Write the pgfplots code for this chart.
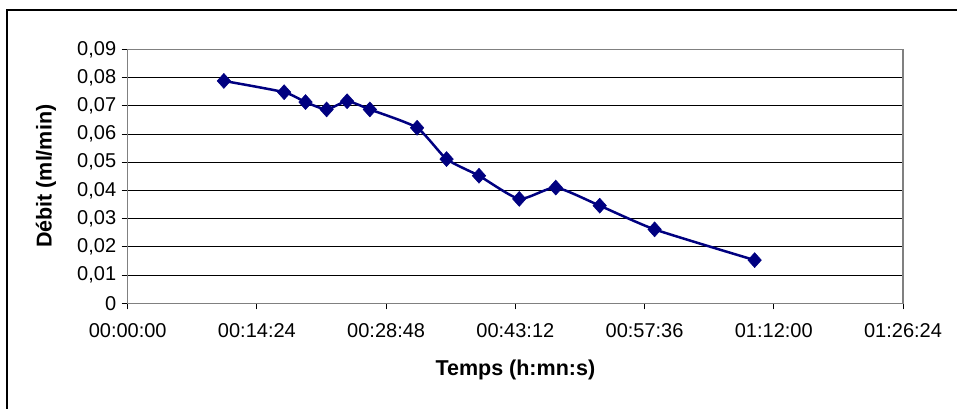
\documentclass[border=0pt]{standalone}
\usepackage{fontspec}
\setmainfont{Liberation Sans}
\usepackage{pgfplots}
\pgfplotsset{compat=1.18}
\definecolor{navyline}{RGB}{0,0,128}
\definecolor{framegray}{RGB}{128,128,128}

% flow rate (ml/min) against elapsed time (s)
\pgfplotstableread{
t     q
643   0.0788
1046  0.0748
1189  0.0713
1330  0.0687
1467  0.0716
1619  0.0687
1935  0.0622
2132  0.0511
2349  0.0452
2618  0.0370
2862  0.0410
3156  0.0346
3523  0.0262
4192  0.0153
}\debit

\begin{document}
\begin{tikzpicture}[x=1pt,y=1pt]
\useasboundingbox (0,0) rectangle (957,408);
\draw[line width=1.2pt] (7,-20) -- (7,398) -- (980,398);
\begin{axis}[
  at={(127.7pt,104.7pt)}, anchor=south west,
  scale only axis, width=775.3pt, height=254pt,
  xmin=0, xmax=5184, ymin=0, ymax=0.09,
  scaled y ticks=false, scaled x ticks=false,
  xtick={0,864,1728,2592,3456,4320,5184},
  xticklabels={00:00:00,00:14:24,00:28:48,00:43:12,00:57:36,01:12:00,01:26:24},
  ytick={0,0.01,0.02,0.03,0.04,0.05,0.06,0.07,0.08,0.09},
  yticklabels={0,{0,01},{0,02},{0,03},{0,04},{0,05},{0,06},{0,07},{0,08},{0,09}},
  xtick pos=left, ytick pos=left,
  tick align=outside, major tick length=6pt,
  tick style={black, line width=0.9pt},
  ymajorgrids, major grid style={black, line width=0.9pt},
  axis line style={framegray, line width=1.4pt},
  tick label style={font=\fontsize{20}{24}\selectfont},
  xticklabel style={yshift=-11pt},
  yticklabel style={xshift=-2pt},
  xlabel={Temps (h:mn:s)},
  ylabel={Débit (ml/min)},
  label style={font=\fontsize{21.5}{26}\selectfont\bfseries},
  xlabel style={at={(axis description cs:0.5,0)}, anchor=center, yshift=-66.7pt},
  ylabel style={at={(axis description cs:0,0.5)}, anchor=center, yshift=81.7pt},
  clip=false,
]
\addplot[navyline, line width=2.5pt, smooth, tension=0.35,
  mark=diamond*, mark size=7.5pt,
  mark options={solid, fill=navyline, draw=navyline, line width=0.5pt, xscale=1.2}]
  table[x=t, y=q] {\debit};
\end{axis}
\end{tikzpicture}
\end{document}
